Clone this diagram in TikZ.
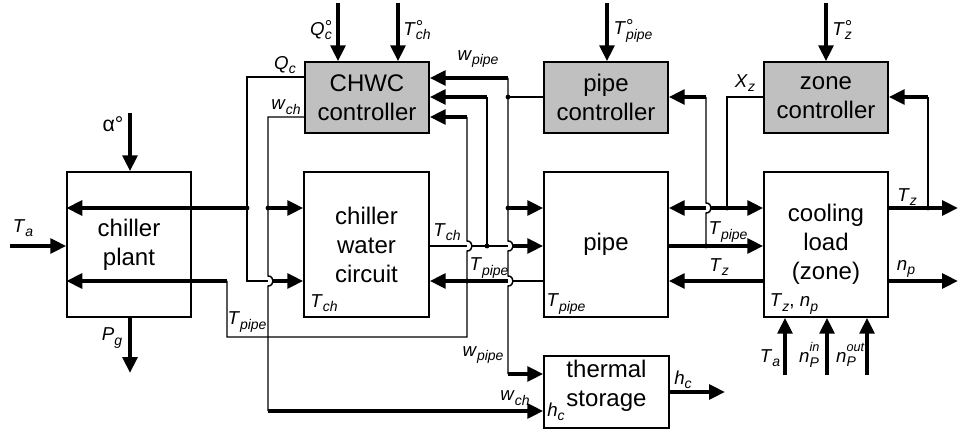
\documentclass[tikz,border=0pt]{standalone}
\usepackage{fontspec}
\setmainfont{Liberation Sans}
\usetikzlibrary{arrows.meta,calc}
\definecolor{ctrlgray}{HTML}{C0C0C0}
\newcommand\vv[2]{\textit{#1}\raisebox{-0.45ex}{\fontsize{10.5}{10.5}\selectfont\textit{#2}}}
\newcommand\vd[2]{\textit{#1}\rlap{\raisebox{0.2ex}{°}}\raisebox{-0.45ex}{\fontsize{10.5}{10.5}\selectfont\textit{#2}}}
\newcommand\vn[1]{\textit{n}\rlap{\raisebox{1.1ex}{\fontsize{9.5}{9.5}\selectfont\textit{#1}}}\raisebox{-0.45ex}{\fontsize{10.5}{10.5}\selectfont\textit{P}}}
\newcommand\hopat[1]{-- ($(#1)+(0,-5)$) .. controls ($(#1)+(6.7,-5)$) and ($(#1)+(6.7,5)$) .. ($(#1)+(0,5)$)}
\tikzset{
  box/.style={draw, line width=1.1pt, minimum width=93pt, minimum height=108.75pt, align=center, font=\fontsize{18}{21.75}\selectfont, inner sep=0pt},
  ctrl/.style={box, fill=ctrlgray, minimum height=53.25pt},
  boxtext/.style={align=center, font=\fontsize{18}{21.75}\selectfont, inner sep=0pt},
  sig/.style={line width=1.1pt},
  thk/.style={line width=3pt},
  flow/.style={thk, -{Triangle[length=12pt,width=11pt]}},
  lab/.style={font=\fontsize{14}{16}\selectfont, inner sep=0pt},
}
\begin{document}
\begin{tikzpicture}[x=0.75pt,y=-0.75pt]
\useasboundingbox (0,0) rectangle (959,434);
% blocks
\node[box] (cp) at (129,244.5) {chiller\\plant};
\node[box, minimum width=93.75pt] (cwc) at (366.5,244.5) {chiller\\water\\circuit};
\node[box] (pipe) at (606,244.5) {pipe};
\node[box] (cl) at (826,244.5) {cooling\\load\\(zone)};
\node[ctrl] (chwc) at (367,97.5) {CHWC\\controller};
\node[ctrl] (pc) at (606,97.5) {pipe\\controller};
\node[ctrl] (zc) at (826,97.5) {zone\\controller};
\node[box, minimum width=93.75pt, minimum height=54pt] (ts) at (606.5,392) {};
\node[boxtext] (tst) at ($(ts.center)+(0,-6)$) {thermal\\storage};
% coordinates
\coordinate (q0) at (338,3);
\coordinate (t0) at (398,3);
\coordinate (p0) at (607,3);
\coordinate (z0) at (826,3);
\coordinate (taS) at (10,246);
\coordinate (alS) at (130,113);
\coordinate (pgE) at (130,373);
\coordinate (j1) at (247,208);
\coordinate (j1t) at (247,77);
\coordinate (j1b) at (247,281);
\coordinate (j2) at (268,208);
\coordinate (j2t) at (268,117);
\coordinate (j2b) at (268,411);
\coordinate (h1) at (268,281);
\coordinate (fb1) at (227,281);
\coordinate (fb2) at (227,337);
\coordinate (fb3) at (467,337);
\coordinate (v1t) at (467,117);
\coordinate (h2) at (467,246);
\coordinate (j3) at (467,281);
\coordinate (j4) at (487,246);
\coordinate (j4t) at (487,97);
\coordinate (v2t) at (508,78);
\coordinate (j5) at (508,97);
\coordinate (j6) at (508,208);
\coordinate (h3) at (508,246);
\coordinate (h4) at (508,281);
\coordinate (v2b) at (508,374);
\coordinate (v3t) at (706,97);
\coordinate (h5) at (706,208);
\coordinate (j7) at (706,246);
\coordinate (xzt) at (727,97);
\coordinate (j8) at (727,208);
\coordinate (j9) at (928,208);
\coordinate (j9t) at (928,97);
\coordinate (tzE) at (958,208);
\coordinate (npE) at (958,281);
\coordinate (in1) at (785,375);
\coordinate (in2) at (827,375);
\coordinate (in3) at (867,375);
\coordinate (hcE) at (725,392);
% top inputs
\draw[flow] (q0) -- (q0 |- chwc.north);
\draw[flow] (t0) -- (t0 |- chwc.north);
\draw[flow] (p0) -- (p0 |- pc.north);
\draw[flow] (z0) -- (z0 |- zc.north);
% chiller plant
\draw[flow] (alS) -- (alS |- cp.north);
\draw[flow] (taS) -- (taS -| cp.west);
\draw[flow] (pgE |- cp.south) -- (pgE);
% Q_c
\draw[sig] (j1t -| chwc.west) -- (j1t) -- (j1b) -- (h1);
\draw[flow] (j1) -- (j1 -| cp.west);
\draw[flow] ($(h1)+(5,0)$) -- (h1 -| cwc.west);
% w_ch
\draw[sig] (j2t -| chwc.west) -- (j2t) \hopat{h1} -- (j2b);
\draw[flow] (j2b) -- (j2b -| ts.west);
\draw[flow] (j2) -- (j2 -| cwc.west);
% T_pipe feedback
\draw[flow] (v1t) -- (v1t -| chwc.east);
\draw[sig] (v1t) \hopat{h2} -- (j3) -- (fb3) -- (fb2) -- (fb1);
\draw[flow] (fb1) -- (fb1 -| cp.west);
\draw[flow] (h4) -- (h4 -| cwc.east);
\draw[sig] ($(h4)+(5,0)$) -- (h4 -| pipe.west);
% T_ch
\draw[sig] (h2 -| cwc.east) -- (h2);
\draw[sig] ($(h2)+(5,0)$) -- (h3);
\draw[flow] ($(h3)+(5,0)$) -- (h3 -| pipe.west);
\draw[sig] (j4) -- (j4t);
\draw[flow] (j4t) -- (j4t -| chwc.east);
% w_pipe
\draw[flow] (v2t) -- (v2t -| chwc.east);
\draw[sig] (v2t) -- (j6) \hopat{h3} \hopat{h4} -- (v2b);
\draw[sig] (j5) -- (j5 -| pc.west);
\draw[flow] (j6) -- (j6 -| pipe.west);
\draw[flow] (v2b) -- (v2b -| ts.west);
% pipe right side
\draw[flow] (v3t) -- (v3t -| pc.east);
\draw[sig] (v3t) \hopat{h5} -- (j7);
\draw[flow] (pipe.east |- j7) -- (cl.west |- j7);
\draw[sig] (xzt -| zc.west) -- (xzt) -- (j8);
\draw[flow] (j8) -- (j8 -| cl.west);
\draw[thk] (j8) -- ($(h5)+(5,0)$);
\draw[flow] (h5) -- (h5 -| pipe.east);
\draw[flow] (cl.west |- h4) -- (pipe.east |- h4);
% cooling load outputs / inputs
\draw[flow] (cl.east |- j9) -- (tzE);
\draw[sig] (j9) -- (j9t);
\draw[flow] (j9t) -- (j9t -| zc.east);
\draw[flow] (cl.east |- npE) -- (npE);
\draw[flow] (in1) -- (in1 |- cl.south);
\draw[flow] (in2) -- (in2 |- cl.south);
\draw[flow] (in3) -- (in3 |- cl.south);
% thermal storage output
\draw[flow] (ts.east |- hcE) -- (hcE);
% dots
\foreach \p in {j1,j2,j3,j4,j5,j6,j7,j8,j9} \fill (\p) circle[radius=1.8pt];
% labels
\node[lab] (lta) at (23,228) {\vv{T}{a}};
\node[lab, font=\fontsize{16}{18}\selectfont] (lal) at (113,124) {α°};
\node[lab] (lpg) at (112,338) {\vv{P}{g}};
\node[lab] (ltp1) at (247,322) {\vv{T}{pipe}};
\node[lab] (lqc) at (285,65) {\vv{Q}{c}};
\node[lab] (lwch) at (286,107) {\vv{w}{ch}};
\node[lab] (lqo) at (321,30) {\vd{Q}{c}};
\node[lab] (lto) at (417,30) {\vd{T}{ch}};
\node[lab] (lwp) at (478,59) {\vv{w}{pipe}};
\node[lab] (ltch) at (447,232) {\vv{T}{ch}};
\node[lab] (ltp2) at (489,268) {\vv{T}{pipe}};
\node[lab] (ltch2) at (324,303) {\vv{T}{ch}};
\node[lab] (ltp3) at (566,304) {\vv{T}{pipe}};
\node[lab] (lwp2) at (483,355) {\vv{w}{pipe}};
\node[lab] (lwch2) at (515,398) {\vv{w}{ch}};
\node[lab] (lpo) at (633,31) {\vd{T}{pipe}};
\node[lab] (lxz) at (745,83) {\vv{X}{z}};
\node[lab] (lzo) at (842,30) {\vd{T}{z}};
\node[lab] (ltp4) at (728,232) {\vv{T}{pipe}};
\node[lab] (ltz) at (719,267) {\vv{T}{z}};
\node[lab] (ltz2) at (907,197) {\vv{T}{z}};
\node[lab] (lnp) at (906,269) {\vv{n}{p}};
\node[lab] (ltznp) at (794,304) {\vv{T}{z}, \vv{n}{p}};
\node[lab] (lta2) at (770,358) {\vv{T}{a}};
\node[lab] (lnin) at (809,355) {\vn{in}};
\node[lab] (lnout) at (846,355) {\vn{out}};
\node[lab] (lhc) at (683,380) {\vv{h}{c}};
\node[lab] (lhc2) at (556,412) {\vv{h}{c}};
\end{tikzpicture}
\end{document}
